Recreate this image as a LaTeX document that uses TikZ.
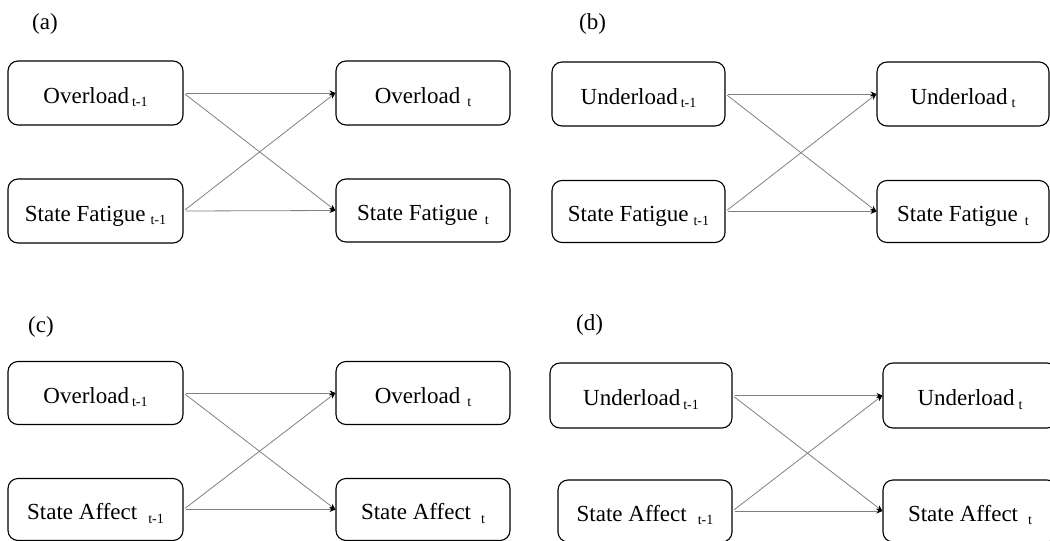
\documentclass[tikz,border=0pt]{standalone}
\usepackage{fontspec}
\setmainfont{Liberation Serif}
\usetikzlibrary{arrows.meta}
\newcommand{\lbl}[3]{#1\hspace{#3}{\fontsize{14}{14}\selectfont\raisebox{-3.5pt}{#2}}}
\tikzset{
  var/.style={draw=black, line width=1.1pt, rounded corners=10pt, inner sep=0pt,
    minimum height=64pt, text height=20pt, text depth=0pt, align=center,
    font=\fontsize{23}{27}\selectfont},
  conn/.style={draw=black!50, line width=0.8pt, shorten <=2pt,
    -{Stealth[length=6pt,width=5pt,color=black]}},
  panel/.style={anchor=base west, inner sep=0pt, font=\fontsize{23}{27}\selectfont}
}
\begin{document}
\begin{tikzpicture}[x=1pt,y=-1pt]
\useasboundingbox (0,0) rectangle (1050,541);
% (a)
\node[panel] (la) at (32,29) {(a)};
\node[var, minimum width=175pt] (a1) at (95.5,93) {\lbl{Overload}{t-1}{3pt}};
\node[var, minimum width=175pt] (a2) at (95.5,211) {\lbl{State Fatigue}{t-1}{5pt}};
\node[var, minimum width=174pt] (a3) at (423,93) {\lbl{Overload}{t}{7pt}};
\node[var, minimum width=174pt, minimum height=63pt] (a4) at (423,210.5) {\lbl{State Fatigue}{t}{7pt}};
\draw[conn] (a1.east) -- (a3.west);
\draw[conn] (a1.east) -- (a4.west);
\draw[conn] (a2.east) -- (a3.west);
\draw[conn] (a2.east) -- (a4.west);
% (b)
\node[panel] (lb) at (579,29) {(b)};
\node[var, minimum width=173pt] (b1) at (638.5,94) {\lbl{Underload}{t-1}{3pt}};
\node[var, minimum width=173pt, minimum height=62pt] (b2) at (638.5,211.5) {\lbl{State Fatigue}{t-1}{5pt}};
\node[var, minimum width=172pt] (b3) at (963,94) {\lbl{Underload}{t}{4pt}};
\node[var, minimum width=172pt, minimum height=62pt] (b4) at (963,211.5) {\lbl{State Fatigue}{t}{7pt}};
\draw[conn] (b1.east) -- (b3.west);
\draw[conn] (b1.east) -- (b4.west);
\draw[conn] (b2.east) -- (b3.west);
\draw[conn] (b2.east) -- (b4.west);
% (c)
\node[panel] (lc) at (28,332) {(c)};
\node[var, minimum width=175pt, minimum height=63pt] (c1) at (95.5,393) {\lbl{Overload}{t-1}{3pt}};
\node[var, minimum width=175pt, minimum height=62pt] (c2) at (95.5,509.5) {\lbl{State Affect}{t-1}{11pt}};
\node[var, minimum width=174pt, minimum height=63pt] (c3) at (423,393) {\lbl{Overload}{t}{7pt}};
\node[var, minimum width=174pt, minimum height=62pt] (c4) at (423,509.5) {\lbl{State Affect}{t}{10pt}};
\draw[conn] (c1.east) -- (c3.west);
\draw[conn] (c1.east) -- (c4.west);
\draw[conn] (c2.east) -- (c3.west);
\draw[conn] (c2.east) -- (c4.west);
% (d)
\node[panel] (ld) at (576,330) {(d)};
\node[var, minimum width=182pt, minimum height=65pt] (d1) at (641,395.5) {\lbl{Underload}{t-1}{3pt}};
\node[var, minimum width=174pt, minimum height=62pt] (d2) at (645,511) {\lbl{State Affect}{t-1}{11pt}};
\node[var, minimum width=174pt, minimum height=65pt] (d3) at (970,395.5) {\lbl{Underload}{t}{4pt}};
\node[var, minimum width=174pt, minimum height=62pt] (d4) at (970,511) {\lbl{State Affect}{t}{10pt}};
\draw[conn] (d1.east) -- (d3.west);
\draw[conn] (d1.east) -- (d4.west);
\draw[conn] (d2.east) -- (d3.west);
\draw[conn] (d2.east) -- (d4.west);
\end{tikzpicture}
\end{document}
